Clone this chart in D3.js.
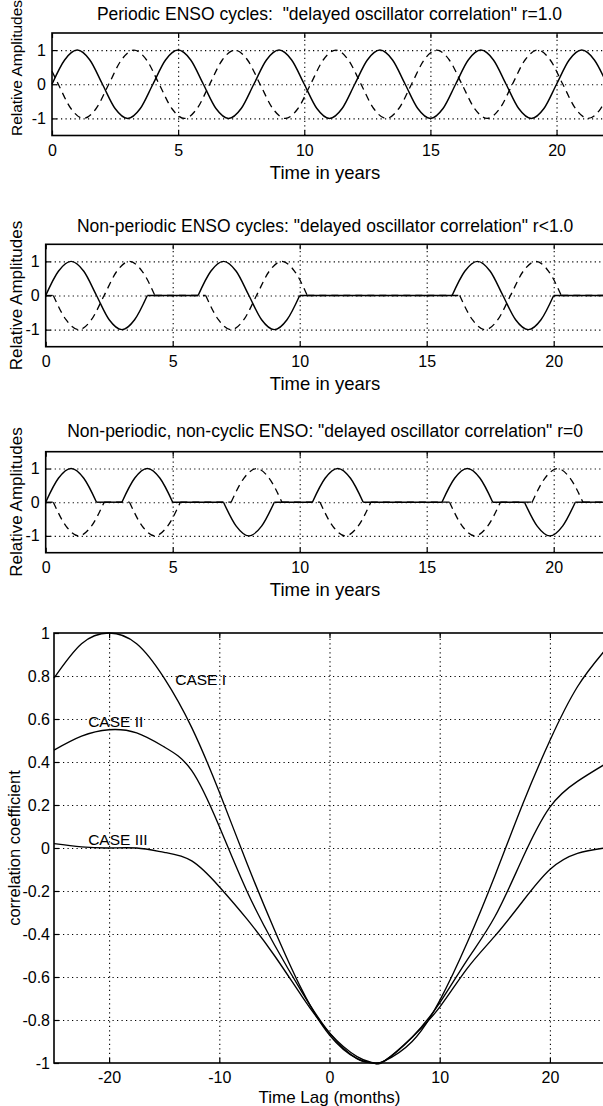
<!DOCTYPE html>
<html><head><meta charset="utf-8">
<script src="https://cdn.jsdelivr.net/npm/d3@7"></script>
<style>
body{margin:0;background:#fff}
svg{display:block}
</style>
</head><body>
<svg id="chart" width="603" height="1106"></svg>
<script>
// ---------------- DATA ----------------
const panelTitles = [
  'Periodic ENSO cycles:  "delayed oscillator correlation" r=1.0',
  'Non-periodic ENSO cycles: "delayed oscillator correlation" r<1.0',
  'Non-periodic, non-cyclic ENSO: "delayed oscillator correlation" r=0'
];
const timeAxisTitle = "Time in years";
const ampAxisTitle = "Relative Amplitudes";
const yearDomain = [0, 22];
const ampDomain = [-1.5, 1.5];
const timeTicks = [0, 5, 10, 15, 20];
const ampTicks = [-1, 0, 1];

// Panel 1 (periodic): sampled every half year
const p1SolidYears = d3.range(0, 22.01, 0.5);
const p1SolidValues = [
  0,.71,1,.71,0,-.71,-1,-.71,
  0,.71,1,.71,0,-.71,-1,-.71,
  0,.71,1,.71,0,-.71,-1,-.71,
  0,.71,1,.71,0,-.71,-1,-.71,
  0,.71,1,.71,0,-.71,-1,-.71,
  0,.71,1,.71,0
];
const p1DashedYears = [0].concat(d3.range(0.25, 21.8, 0.5), [22]);
const p1DashedValues = [
  .38,
  0,-.71,-1,-.71,0,.71,1,.71,
  0,-.71,-1,-.71,0,.71,1,.71,
  0,-.71,-1,-.71,0,.71,1,.71,
  0,-.71,-1,-.71,0,.71,1,.71,
  0,-.71,-1,-.71,0,.71,1,.71,
  0,-.71,-1,-.71,
  -.38
];

// Panel 2 (non-periodic cycles): [year, amplitude]
const p2Solid = [
  [0,0],[0.5,.71],[1,1],[1.5,.71],[2,0],[2.5,-.71],[3,-1],[3.5,-.71],[4,0],
  [6,0],[6.5,.71],[7,1],[7.5,.71],[8,0],[8.5,-.71],[9,-1],[9.5,-.71],[10,0],
  [16,0],[16.5,.71],[17,1],[17.5,.71],[18,0],[18.5,-.71],[19,-1],[19.5,-.71],[20,0],
  [22,0]
];
const p2Dashed = [
  [0,0],[0.3,0],[0.8,-.71],[1.3,-1],[1.8,-.71],[2.3,0],[2.8,.71],[3.3,1],[3.8,.71],[4.3,0],
  [6.3,0],[6.8,-.71],[7.3,-1],[7.8,-.71],[8.3,0],[8.8,.71],[9.3,1],[9.8,.71],[10.3,0],
  [16.3,0],[16.8,-.71],[17.3,-1],[17.8,-.71],[18.3,0],[18.8,.71],[19.3,1],[19.8,.71],[20.3,0],
  [22,0]
];

// Panel 3 (non-periodic, non-cyclic): [year, amplitude]
const p3Solid = [
  [0,0],[0.5,.71],[1,1],[1.5,.71],[2,0],
  [3,0],[3.5,.71],[4,1],[4.5,.71],[5,0],
  [7,0],[7.5,-.71],[8,-1],[8.5,-.71],[9,0],
  [10.5,0],[11,.71],[11.5,1],[12,.71],[12.5,0],
  [15.6,0],[16.1,.71],[16.6,1],[17.1,.71],[17.6,0],
  [18.85,0],[19.35,-.71],[19.85,-1],[20.35,-.71],[20.85,0],
  [22,0]
];
const p3Dashed = [
  [0,0],[0.3,0],[0.8,-.71],[1.3,-1],[1.8,-.71],[2.3,0],
  [3.3,0],[3.8,-.71],[4.3,-1],[4.8,-.71],[5.3,0],
  [7.3,0],[7.8,.71],[8.3,1],[8.8,.71],[9.3,0],
  [10.8,0],[11.3,-.71],[11.8,-1],[12.3,-.71],[12.8,0],
  [15.9,0],[16.4,-.71],[16.9,-1],[17.4,-.71],[17.9,0],
  [19.15,0],[19.65,.71],[20.15,1],[20.65,.71],[21.15,0],
  [22,0]
];

// Bottom panel: lag correlation
const lagDomain = [-25, 25];
const corrDomain = [-1, 1];
const lagTicks = [-20, -10, 0, 10, 20];
const corrTicks = [1, 0.8, 0.6, 0.4, 0.2, 0, -0.2, -0.4, -0.6, -0.8, -1];
const lagAxisTitle = "Time Lag (months)";
const corrAxisTitle = "correlation coefficient";
const lags   = [-25,-22.5,-20,-17.5,-15,-12.5,-10,-7.5,-5,-2.5,0,2.5,4,5,7.5,10,12.5,15,17.5,20,22.5,25];
const caseI   = [.79,.95,1,.95,.79,.56,.26,-.07,-.38,-.66,-.87,-.98,-1,-.99,-.90,-.71,-.44,-.13,.20,.50,.75,.92];
const caseII  = [.455,.52,.55,.535,.47,.36,.10,-.20,-.45,-.67,-.86,-.98,-1,-.99,-.88,-.72,-.52,-.32,-.05,.19,.31,.39];
const caseIII = [.02,.005,0,0,-.02,-.06,-.18,-.33,-.50,-.69,-.86,-.97,-1,-.99,-.88,-.74,-.56,-.41,-.25,-.10,-.025,0];
const caseLabels = ["CASE I", "CASE II", "CASE III"];
const caseLabelAt = [[-14, 0.76], [-21.9, 0.565], [-21.9, 0.015]];

// ---------------- LAYOUT ----------------
const FONT = "'Liberation Sans', Arial, Helvetica, sans-serif";
const panelLayout = [
  {left: 52,   right: 607,   top: 33,    bottom: 135.5, titleY: 20,    ylabCY: 68,    ylabSize: 15.5},
  {left: 45.7, right: 604.5, top: 244.3, bottom: 346.7, titleY: 231.7, ylabCY: 295.5, ylabSize: 17},
  {left: 45.7, right: 604.5, top: 451.7, bottom: 552.7, titleY: 437.3, ylabCY: 502,   ylabSize: 17}
];
const bottomLayout = {left: 54, right: 605, top: 633, bottom: 1063};

const svg = d3.select("#chart");

function zip(xs, ys) { return xs.map((t, i) => [t, ys[i]]); }

// split a series into curved humps and straight flat runs
function pieces(pts) {
  const out = []; let cur = [pts[0]];
  for (let i = 1; i < pts.length; i++) {
    if (pts[i-1][1] === 0 && pts[i][1] === 0) {
      if (cur.length > 1) out.push(cur);
      out.push([pts[i-1], pts[i]]);
      cur = [pts[i]];
    } else cur.push(pts[i]);
  }
  if (cur.length > 1) out.push(cur);
  return out;
}

function gridAxis(sel) {
  sel.select(".domain").remove();
  sel.selectAll(".tick line").attr("stroke", "#000").attr("stroke-width", 1.1).attr("stroke-dasharray", "1.2,3.3");
}
function tickAxis(sel) {
  sel.select(".domain").remove();
  sel.selectAll(".tick line").attr("stroke", "#000").attr("stroke-width", 1.2);
}
function labelAxis(sel, size) {
  sel.select(".domain").remove();
  sel.attr("font-family", FONT).attr("font-size", size);
  sel.selectAll(".tick line").remove();
  sel.selectAll(".tick text").attr("fill", "#000");
}

function drawPanel(i, solid, dashed) {
  const L = panelLayout[i];
  const w = L.right - L.left, h = L.bottom - L.top;
  const x = d3.scaleLinear().domain(yearDomain).range([L.left, L.right]);
  const y = d3.scaleLinear().domain(ampDomain).range([L.bottom, L.top]);
  const g = svg.append("g");

  g.append("g").attr("transform", `translate(0,${L.bottom})`)
    .call(d3.axisBottom(x).tickValues(timeTicks.filter(d => d > 0)).tickSize(-h).tickFormat(""))
    .call(gridAxis);
  g.append("g").attr("transform", `translate(${L.left},0)`)
    .call(d3.axisLeft(y).tickValues(ampTicks).tickSize(-w).tickFormat(""))
    .call(gridAxis);

  g.append("g").attr("transform", `translate(0,${L.bottom})`)
    .call(d3.axisBottom(x).tickValues(timeTicks).tickSize(-5).tickFormat("")).call(tickAxis);
  g.append("g").attr("transform", `translate(0,${L.top})`)
    .call(d3.axisTop(x).tickValues(timeTicks).tickSize(-5).tickFormat("")).call(tickAxis);
  g.append("g").attr("transform", `translate(${L.left},0)`)
    .call(d3.axisLeft(y).tickValues(ampTicks).tickSize(-5).tickFormat("")).call(tickAxis);

  g.append("g").attr("transform", `translate(0,${L.bottom})`)
    .call(d3.axisBottom(x).tickValues(timeTicks).tickSize(0).tickPadding(9).tickFormat(d => String(d)))
    .call(s => labelAxis(s, 16));
  g.append("g").attr("transform", `translate(${L.left},0)`)
    .call(d3.axisLeft(y).tickValues(ampTicks).tickSize(0).tickPadding(6).tickFormat(d => String(d)))
    .call(s => labelAxis(s, 16));

  const line = d3.line().x(d => x(d[0])).y(d => y(d[1])).curve(d3.curveMonotoneX);
  pieces(dashed).forEach(p => g.append("path").attr("d", line(p)).attr("fill", "none")
    .attr("stroke", "#000").attr("stroke-width", 1.3).attr("stroke-dasharray", "7,5"));
  pieces(solid).forEach(p => g.append("path").attr("d", line(p)).attr("fill", "none")
    .attr("stroke", "#000").attr("stroke-width", 1.45));

  g.append("rect").attr("x", L.left).attr("y", L.top).attr("width", w).attr("height", h)
    .attr("fill", "none").attr("stroke", "#000").attr("stroke-width", 1.6);

  g.append("text").attr("x", (L.left + L.right) / 2).attr("y", L.titleY)
    .attr("text-anchor", "middle").attr("font-family", FONT).attr("font-size", 17.5)
    .style("white-space", "pre").text(panelTitles[i]);
  g.append("text").attr("x", 325).attr("y", L.bottom + 43)
    .attr("text-anchor", "middle").attr("font-family", FONT).attr("font-size", 18.5)
    .text(timeAxisTitle);
  g.append("text").attr("transform", `translate(22,${L.ylabCY}) rotate(-90)`)
    .attr("text-anchor", "middle").attr("font-family", FONT).attr("font-size", L.ylabSize)
    .text(ampAxisTitle);
}

drawPanel(0, zip(p1SolidYears, p1SolidValues), zip(p1DashedYears, p1DashedValues));
drawPanel(1, p2Solid, p2Dashed);
drawPanel(2, p3Solid, p3Dashed);

// ---------------- BOTTOM PANEL ----------------
(function () {
  const L = bottomLayout;
  const w = L.right - L.left, h = L.bottom - L.top;
  const x = d3.scaleLinear().domain(lagDomain).range([L.left, L.right]);
  const y = d3.scaleLinear().domain(corrDomain).range([L.bottom, L.top]);
  const g = svg.append("g");

  g.append("g").attr("transform", `translate(0,${L.bottom})`)
    .call(d3.axisBottom(x).tickValues(lagTicks).tickSize(-h).tickFormat(""))
    .call(gridAxis);
  g.append("g").attr("transform", `translate(${L.left},0)`)
    .call(d3.axisLeft(y).tickValues(corrTicks.filter(d => Math.abs(d) < 1)).tickSize(-w).tickFormat(""))
    .call(gridAxis);

  g.append("g").attr("transform", `translate(0,${L.bottom})`)
    .call(d3.axisBottom(x).tickValues(lagTicks).tickSize(-5).tickFormat("")).call(tickAxis);
  g.append("g").attr("transform", `translate(0,${L.top})`)
    .call(d3.axisTop(x).tickValues(lagTicks).tickSize(-5).tickFormat("")).call(tickAxis);
  g.append("g").attr("transform", `translate(${L.left},0)`)
    .call(d3.axisLeft(y).tickValues(corrTicks).tickSize(-5).tickFormat("")).call(tickAxis);

  g.append("g").attr("transform", `translate(0,${L.bottom})`)
    .call(d3.axisBottom(x).tickValues(lagTicks).tickSize(0).tickPadding(8.5).tickFormat(d => String(d)))
    .call(s => labelAxis(s, 16));
  g.append("g").attr("transform", `translate(${L.left},0)`)
    .call(d3.axisLeft(y).tickValues(corrTicks).tickSize(0).tickPadding(4).tickFormat(d => String(d)))
    .call(s => labelAxis(s, 16));

  const line = d3.line().x(d => x(d[0])).y(d => y(d[1])).curve(d3.curveNatural);
  [caseI, caseII, caseIII].forEach(vals => {
    g.append("path").attr("d", line(zip(lags, vals))).attr("fill", "none")
      .attr("stroke", "#000").attr("stroke-width", 1.35);
  });

  g.append("rect").attr("x", L.left).attr("y", L.top).attr("width", w).attr("height", h)
    .attr("fill", "none").attr("stroke", "#000").attr("stroke-width", 1.6);

  caseLabels.forEach((t, i) => {
    g.append("text").attr("x", x(caseLabelAt[i][0])).attr("y", y(caseLabelAt[i][1]))
      .attr("font-family", FONT).attr("font-size", 15.5).text(t);
  });

  g.append("text").attr("x", (L.left + L.right) / 2).attr("y", L.bottom + 39.5)
    .attr("text-anchor", "middle").attr("font-family", FONT).attr("font-size", 17)
    .text(lagAxisTitle);
  g.append("text").attr("transform", `translate(20,${(L.top + L.bottom) / 2}) rotate(-90)`)
    .attr("text-anchor", "middle").attr("font-family", FONT).attr("font-size", 16.5)
    .text(corrAxisTitle);
})();
</script>
</body></html>
